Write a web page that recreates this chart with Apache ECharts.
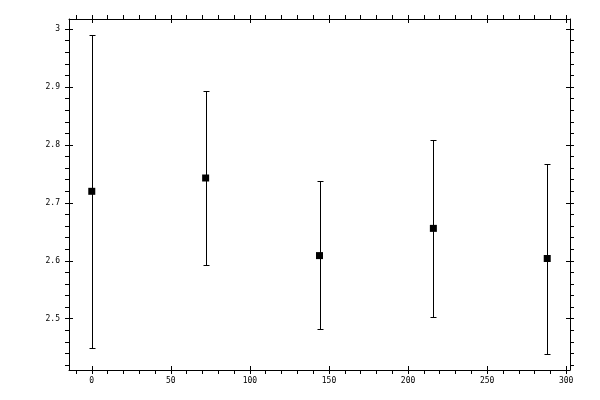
<!DOCTYPE html>
<html><head><meta charset="utf-8">
<script src="https://cdn.jsdelivr.net/npm/echarts@6/dist/echarts.min.js"></script>
<style>html,body{margin:0;padding:0;background:#fff}#c{width:600px;height:400px}</style>
</head><body><div id="c"></div>
<script>
const xValues = [0, 72, 144, 216, 288];
const meanValues = [2.720, 2.743, 2.609, 2.656, 2.604];
const lowValues = [2.450, 2.592, 2.483, 2.503, 2.439];
const highValues = [2.990, 2.893, 2.737, 2.808, 2.768];
const xTickLabels = [0, 50, 100, 150, 200, 250, 300];
const yTickLabels = [2.5, 2.6, 2.7, 2.8, 2.9, 3];

function pad(lo, hi) { const r = hi - lo; return [lo - 0.05 * r, hi + 0.05 * r]; }
const [xMin, xMax] = pad(Math.min(...xValues), Math.max(...xValues));
const [yMin, yMax] = pad(Math.min(...lowValues), Math.max(...highValues));

function allTicks(lo, hi, step) {
  const out = [];
  for (let k = Math.ceil(lo / step - 1e-9); k <= Math.floor(hi / step + 1e-9); k++) {
    out.push(Math.round(k * step * 1e6) / 1e6);
  }
  return out;
}
const xAllTicks = allTicks(xMin, xMax, 10);
const yAllTicks = allTicks(yMin, yMax, 0.02);

const black = '#000';
const font = { fontFamily: 'DejaVu Sans Mono', fontSize: 8, color: black };

function axis(kind, pos, inside, tickValues, showLine, showLabel) {
  const isX = kind === 'x';
  return {
    type: 'value', position: pos,
    min: isX ? xMin : yMin, max: isX ? xMax : yMax,
    axisLine: { show: showLine, onZero: false, lineStyle: { color: black, width: 1 } },
    axisTick: { show: true, inside: inside, length: 4, customValues: tickValues, lineStyle: { color: black, width: 1 } },
    axisLabel: showLabel ? Object.assign({ show: true, customValues: isX ? xTickLabels : yTickLabels, margin: isX ? 7 : 9 }, font) : { show: false },
    splitLine: { show: false },
    minorTick: { show: false }
  };
}

const chart = echarts.init(document.getElementById('c'));
chart.setOption({
  animation: false,
  backgroundColor: '#fff',
  grid: { left: 69, right: 30, top: 19, bottom: 30, containLabel: false },
  xAxis: [
    axis('x', 'bottom', false, xAllTicks, true, true),
    axis('x', 'bottom', true, xTickLabels, false, false),
    axis('x', 'top', false, xAllTicks, true, false),
    axis('x', 'top', true, xTickLabels, false, false)
  ],
  yAxis: [
    axis('y', 'left', false, yAllTicks, true, true),
    axis('y', 'left', true, yTickLabels, false, false),
    axis('y', 'right', false, yAllTicks, true, false),
    axis('y', 'right', true, yTickLabels, false, false)
  ],
  series: [
    {
      type: 'custom',
      xAxisIndex: 0, yAxisIndex: 0,
      data: xValues.map((x, i) => [x, lowValues[i], highValues[i]]),
      renderItem: function (params, api) {
        const lo = api.coord([api.value(0), api.value(1)]);
        const hi = api.coord([api.value(0), api.value(2)]);
        const cx = Math.round(lo[0]) + 0.5;
        const yl = Math.round(lo[1]) + 0.5;
        const yh = Math.round(hi[1]) + 0.5;
        const style = { stroke: black, lineWidth: 1 };
        const hw = 3;
        return {
          type: 'group',
          children: [
            { type: 'line', shape: { x1: cx, y1: yl, x2: cx, y2: yh }, style: style },
            { type: 'line', shape: { x1: cx - hw, y1: yl, x2: cx + hw, y2: yl }, style: style },
            { type: 'line', shape: { x1: cx - hw, y1: yh, x2: cx + hw, y2: yh }, style: style }
          ]
        };
      },
      z: 2
    },
    {
      type: 'scatter',
      xAxisIndex: 0, yAxisIndex: 0,
      data: xValues.map((x, i) => [x, meanValues[i]]),
      symbol: 'rect', symbolSize: 7,
      itemStyle: { color: black, opacity: 1 },
      z: 3
    }
  ]
});
</script>
</body></html>
